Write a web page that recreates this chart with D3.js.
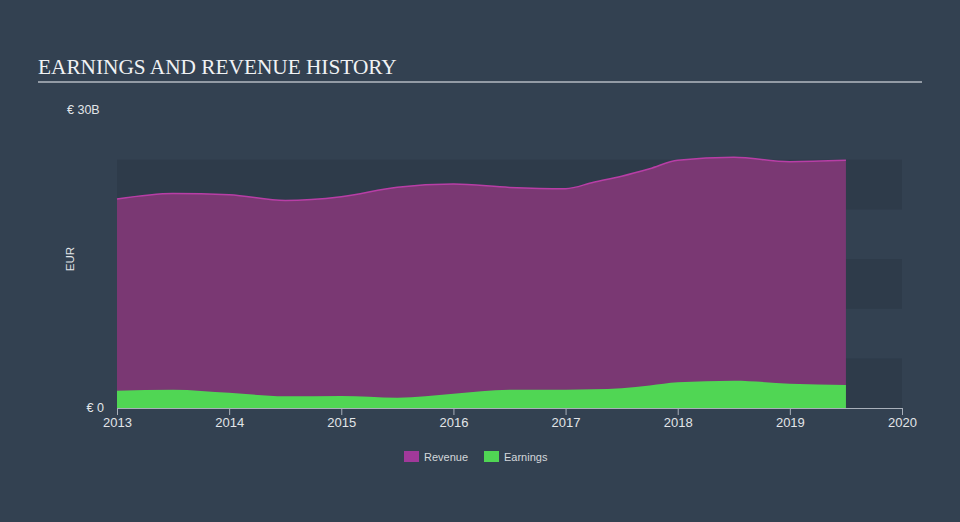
<!DOCTYPE html>
<html>
<head>
<meta charset="utf-8">
<script src="https://cdn.jsdelivr.net/npm/d3@7"></script>
<style>
  body { margin: 0; background: #334151; }
  svg { display: block; }
</style>
</head>
<body>
<svg id="chart" width="960" height="522"></svg>
<script>
// data (EUR billions)
var dates    = [2013.0, 2013.5, 2014.0, 2014.5, 2015.0, 2015.5, 2016.0, 2016.5, 2017.0, 2017.25, 2017.5, 2017.75, 2018.0, 2018.5, 2019.0, 2019.5];
var revenue  = [21.04, 21.60, 21.47, 20.89, 21.27, 22.23, 22.55, 22.21, 22.08, 22.73, 23.34, 24.09, 24.95, 25.25, 24.80, 24.93];
var earnings = [1.74, 1.84, 1.53, 1.18, 1.21, 1.04, 1.44, 1.84, 1.84, 1.88, 1.99, 2.27, 2.59, 2.75, 2.45, 2.32];
var yearTicks = [2013, 2014, 2015, 2016, 2017, 2018, 2019, 2020];
var bandEdges = [0, 5, 10, 15, 20, 25];

var svg = d3.select("#chart");

var x = d3.scaleLinear().domain([2013, 2020]).range([117, 902]);
var y = d3.scaleLinear().domain([0, 30]).range([408, 110]);

// title
svg.append("text")
    .attr("x", 38).attr("y", 74)
    .style("font-family", "'Liberation Serif', 'DejaVu Serif', serif")
    .style("font-size", "21.3px")
    .style("fill", "#f0f2f4")
    .text("EARNINGS AND REVENUE HISTORY");
svg.append("line")
    .attr("x1", 38).attr("x2", 922)
    .attr("y1", 82).attr("y2", 82)
    .style("stroke", "#b4bac2").style("stroke-width", 1.5);

// background bands
svg.selectAll(".band")
    .data(bandEdges.slice(0, -1))
    .enter()
    .append("rect")
    .attr("class", "band")
    .attr("x", x(2013))
    .attr("width", x(2020) - x(2013))
    .attr("y", function(d){ return y(d + 5); })
    .attr("height", function(d){ return y(d) - y(d + 5); })
    .style("fill", function(d, i){ return i % 2 == 0 ? "#2e3b4a" : "#334151"; });

var pts = dates.map(function(d, i){ return {t: d, r: revenue[i], e: earnings[i]}; });

var revArea = d3.area()
    .x(function(d){ return x(d.t); })
    .y0(y(0))
    .y1(function(d){ return y(d.r); })
    .curve(d3.curveMonotoneX);
var revLine = d3.line()
    .x(function(d){ return x(d.t); })
    .y(function(d){ return y(d.r); })
    .curve(d3.curveMonotoneX);
var earnArea = d3.area()
    .x(function(d){ return x(d.t); })
    .y0(y(0))
    .y1(function(d){ return y(d.e); })
    .curve(d3.curveMonotoneX);

svg.append("path").datum(pts)
    .attr("d", revArea)
    .style("fill", "#7a3873");
svg.append("path").datum(pts)
    .attr("d", revLine)
    .style("fill", "none")
    .style("stroke", "#b83ea6")
    .style("stroke-width", 1.5);
svg.append("path").datum(pts)
    .attr("d", earnArea)
    .style("fill", "#50d654");

// x axis
var xAxis = svg.append("g")
    .attr("transform", "translate(0,408)")
    .call(d3.axisBottom(x).tickValues(yearTicks).tickFormat(d3.format("d")).tickSizeOuter(0).tickSize(7));
xAxis.select(".domain").style("stroke", "#a9b0ba");
xAxis.selectAll(".tick line").style("stroke", "#a9b0ba");
xAxis.selectAll(".tick text")
    .attr("y", 10)
    .attr("dy", "0.71em")
    .style("fill", "#e2e5e8")
    .style("font-family", "'Liberation Sans', Arial, sans-serif")
    .style("font-size", "13px");

// y labels
svg.append("text")
    .attr("x", 67).attr("y", 114)
    .style("font-family", "'Liberation Sans', Arial, sans-serif")
    .style("font-size", "12.5px").style("fill", "#e2e5e8")
    .text("€ 30B");
svg.append("text")
    .attr("x", 104).attr("y", 412)
    .attr("text-anchor", "end")
    .style("font-family", "'Liberation Sans', Arial, sans-serif")
    .style("font-size", "12.5px").style("fill", "#e2e5e8")
    .text("€ 0");
svg.append("text")
    .attr("transform", "translate(74,259) rotate(-90)")
    .attr("text-anchor", "middle")
    .style("font-family", "'Liberation Sans', Arial, sans-serif")
    .style("font-size", "11.5px").style("fill", "#e2e5e8")
    .text("EUR");

// legend
var legend = [{name: "Revenue", color: "#a1399a", x: 404}, {name: "Earnings", color: "#50d654", x: 484}];
var lg = svg.selectAll(".lg").data(legend).enter().append("g")
    .attr("class", "lg")
    .attr("transform", function(d){ return "translate(" + d.x + ",451)"; });
lg.append("rect").attr("width", 15).attr("height", 11).style("fill", function(d){ return d.color; });
lg.append("text")
    .attr("x", 20).attr("y", 9.5)
    .style("font-family", "'Liberation Sans', Arial, sans-serif")
    .style("font-size", "11px").style("fill", "#d4d8dc")
    .text(function(d){ return d.name; });
</script>
</body>
</html>
